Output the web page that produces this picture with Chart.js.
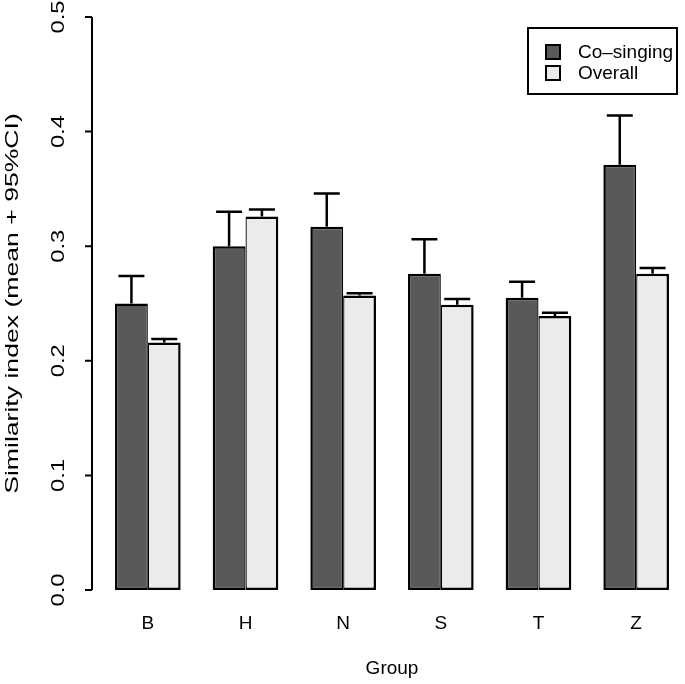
<!DOCTYPE html>
<html>
<head>
<meta charset="utf-8">
<script src="https://cdn.jsdelivr.net/npm/chart.js@4.4.0/dist/chart.umd.min.js"></script>
<style>
  html, body { margin: 0; padding: 0; background: #fff; overflow: hidden; }
  #wrap { width: 685px; height: 684px; }
</style>
</head>
<body>
<div id="wrap"><canvas id="grafico"></canvas></div>
<script>
// Valores
const grupos = ['B', 'H', 'N', 'S', 'T', 'Z'];
const coSinging = [0.250, 0.300, 0.317, 0.276, 0.255, 0.371];
const coSingingSup = [0.274, 0.330, 0.346, 0.306, 0.269, 0.414];
const overall = [0.216, 0.326, 0.257, 0.249, 0.239, 0.276];
const overallSup = [0.219, 0.332, 0.259, 0.254, 0.242, 0.281];
const yTicks = [0, 0.1, 0.2, 0.3, 0.4, 0.5];

const FUENTE = 'Liberation Sans, Arial, Helvetica, sans-serif';

// Barras de error (solo límite superior)
const barrasError = {
    id: 'barrasError',
    afterDatasetsDraw(chart) {
        const ctx = chart.ctx;
        const y = chart.scales.y;
        chart.data.datasets.forEach((ds, i) => {
            chart.getDatasetMeta(i).data.forEach((bar, j) => {
                const top = y.getPixelForValue(ds.superior[j]);
                ctx.save();
                ctx.strokeStyle = '#000';
                ctx.lineWidth = 2.5;
                ctx.beginPath();
                ctx.moveTo(bar.x, bar.y);
                ctx.lineTo(bar.x, top);
                ctx.moveTo(bar.x - 13, top);
                ctx.lineTo(bar.x + 13, top);
                ctx.stroke();
                ctx.restore();
            });
        });
    }
};

// Eje Y al estilo R: línea separada, marcas y etiquetas giradas (texto estirado como en el original)
const ejeY = {
    id: 'ejeY',
    afterDraw(chart) {
        const ctx = chart.ctx;
        const y = chart.scales.y;
        const x0 = chart.chartArea.left - 7;
        ctx.save();
        ctx.strokeStyle = '#000';
        ctx.lineWidth = 2;
        ctx.beginPath();
        ctx.moveTo(x0, y.getPixelForValue(yTicks[0]));
        ctx.lineTo(x0, y.getPixelForValue(yTicks[yTicks.length - 1]));
        yTicks.forEach(t => {
            const py = y.getPixelForValue(t);
            ctx.moveTo(x0 - 7, py);
            ctx.lineTo(x0, py);
        });
        ctx.stroke();

        ctx.fillStyle = '#000';
        ctx.font = '19px ' + FUENTE;
        ctx.textAlign = 'center';
        ctx.textBaseline = 'middle';
        yTicks.forEach(t => {
            ctx.save();
            ctx.translate(x0 - 33, y.getPixelForValue(t));
            ctx.rotate(-Math.PI / 2);
            ctx.scale(1.25, 1);
            ctx.fillText(t.toFixed(1), 0, 0);
            ctx.restore();
        });

        // título del eje
        const titulo = y.options.title.text;
        const medio = (chart.chartArea.top + chart.chartArea.bottom) / 2;
        ctx.save();
        ctx.translate(13, medio);
        ctx.rotate(-Math.PI / 2);
        ctx.scale(1.4, 1);
        ctx.fillText(titulo, 0, 0);
        ctx.restore();
        ctx.restore();
    }
};

// Leyenda con recuadro, arriba a la derecha
const leyenda = {
    id: 'leyenda',
    afterDraw(chart) {
        const ctx = chart.ctx;
        const bx = 528, by = 28, bw = 149, bh = 66;
        ctx.save();
        ctx.fillStyle = '#fff';
        ctx.fillRect(bx, by, bw, bh);
        ctx.strokeStyle = '#000';
        ctx.lineWidth = 2;
        ctx.strokeRect(bx, by, bw, bh);
        ctx.font = '19px ' + FUENTE;
        ctx.textBaseline = 'middle';
        chart.data.datasets.forEach((ds, i) => {
            const cy = by + 24 + i * 21;
            ctx.fillStyle = ds.backgroundColor;
            ctx.fillRect(546, cy - 7, 14, 14);
            ctx.lineWidth = 2;
            ctx.strokeRect(546, cy - 7, 14, 14);
            ctx.fillStyle = '#000';
            ctx.fillText(ds.label, 578, cy + 1);
        });
        ctx.restore();
    }
};

const ctx = document.getElementById('grafico').getContext('2d');
new Chart(ctx, {
    type: 'bar',
    data: {
        labels: grupos,
        datasets: [
            {
                label: 'Co\u2013singing',
                data: coSinging,
                superior: coSingingSup,
                backgroundColor: '#595959',
                borderColor: '#000',
                borderWidth: { left: 2.5, top: 2.5, bottom: 2.5, right: 1.3 },
                borderSkipped: false
            },
            {
                label: 'Overall',
                data: overall,
                superior: overallSup,
                backgroundColor: '#ebebeb',
                borderColor: '#000',
                borderWidth: { left: 1.3, top: 2.5, bottom: 2.5, right: 2.5 },
                borderSkipped: false
            }
        ]
    },
    options: {
        responsive: true,
        maintainAspectRatio: false,
        animation: false,
        categoryPercentage: 0.672,
        barPercentage: 1.0,
        layout: { padding: { top: 17, left: 0, right: -3, bottom: 0 } },
        plugins: {
            legend: { display: false },
            tooltip: { enabled: false }
        },
        scales: {
            x: {
                grid: { display: false, drawTicks: false },
                border: { display: false },
                ticks: { color: '#000', font: { size: 19, family: FUENTE }, padding: 22 },
                title: {
                    display: true,
                    text: 'Group',
                    color: '#000',
                    font: { size: 19, family: FUENTE },
                    padding: { top: 0, bottom: 4 }
                },
                afterFit: s => { s.height = 94; }
            },
            y: {
                min: 0,
                max: 0.5,
                grid: { display: false, drawTicks: false },
                border: { display: false },
                afterBuildTicks: s => { s.ticks = yTicks.map(v => ({ value: v })); },
                ticks: { display: false },
                title: { display: false, text: 'Similarity index (mean + 95%CI)' },
                afterFit: s => {
                    s.width = 99;
                    s.paddingTop = 0;
                    s.paddingBottom = 0;
                }
            }
        }
    },
    plugins: [barrasError, ejeY, leyenda]
});
</script>
</body>
</html>
